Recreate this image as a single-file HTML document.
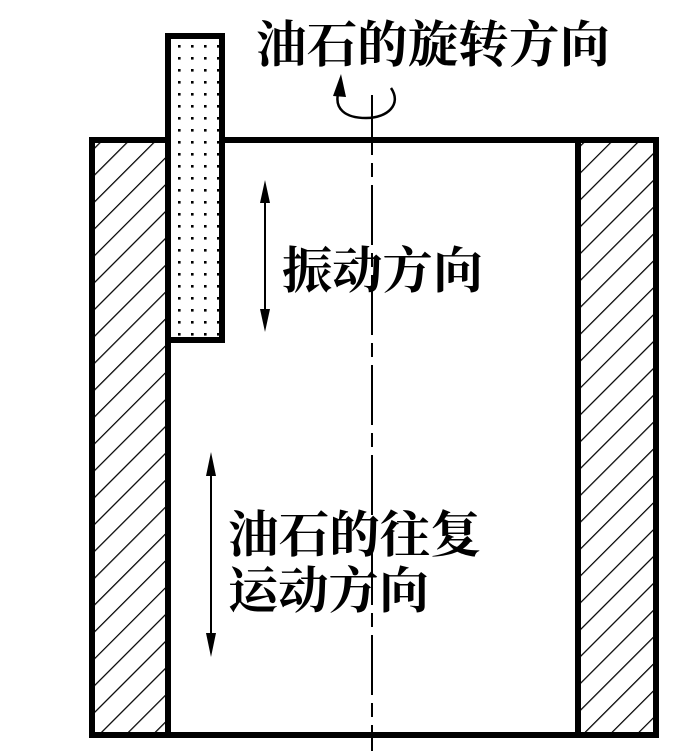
<!DOCTYPE html>
<html><head><meta charset="utf-8"><style>
html,body{margin:0;padding:0;background:#fff;}
svg{display:block;}
text{font-family:"Liberation Serif","Noto Serif CJK SC","Noto Sans CJK SC",serif;fill:#000;font-weight:bold;}
</style></head><body>
<svg width="700" height="751" viewBox="0 0 700 751" xmlns="http://www.w3.org/2000/svg">
<defs>
<pattern id="h" patternUnits="userSpaceOnUse" width="19" height="19" patternTransform="rotate(45)">
<line x1="0" y1="0" x2="0" y2="19" stroke="#000" stroke-width="2.5"/>
</pattern>
<pattern id="d" patternUnits="userSpaceOnUse" width="13" height="12" x="4" y="4">
<rect x="5" y="5" width="2.6" height="2.6" fill="#000"/>
</pattern>
</defs>
<rect x="92" y="140" width="76" height="595" fill="url(#h)"/>
<rect x="578" y="140" width="78" height="595" fill="url(#h)"/>
<line x1="89" y1="140" x2="659" y2="140" stroke="#000" stroke-width="6"/>
<line x1="89" y1="735" x2="659" y2="735" stroke="#000" stroke-width="6"/>
<line x1="92" y1="137" x2="92" y2="738" stroke="#000" stroke-width="6"/>
<line x1="656" y1="137" x2="656" y2="738" stroke="#000" stroke-width="6"/>
<line x1="168" y1="140" x2="168" y2="735" stroke="#000" stroke-width="6"/>
<line x1="578" y1="140" x2="578" y2="735" stroke="#000" stroke-width="6"/>
<rect x="168" y="36" width="54" height="304" fill="#fff"/>
<rect x="168" y="36" width="54" height="304" fill="url(#d)" stroke="#000" stroke-width="6"/>
<line x1="372" y1="95" x2="372" y2="751" stroke="#000" stroke-width="2" stroke-dasharray="60,8,14,8"/>
<path d="M391,88 C402,104 388,118 366,118 C344,118 335,108 338,94" fill="none" stroke="#000" stroke-width="2.5"/>
<polygon points="341,74 333,96 346,97" fill="#000"/>
<line x1="265" y1="190" x2="265" y2="322" stroke="#000" stroke-width="2"/>
<polygon points="265,180 260,203 270,203" fill="#000"/>
<polygon points="265,332 260,309 270,309" fill="#000"/>
<line x1="211" y1="465" x2="211" y2="645" stroke="#000" stroke-width="2"/>
<polygon points="211,452 206,476 216,476" fill="#000"/>
<polygon points="211,657 206,633 216,633" fill="#000"/>
<text x="256" y="62" font-size="50" textLength="354" lengthAdjust="spacingAndGlyphs">油石的旋转方向</text>
<text x="282" y="288" font-size="50" textLength="201" lengthAdjust="spacingAndGlyphs">振动方向</text>
<text x="228" y="552" font-size="50" textLength="253" lengthAdjust="spacingAndGlyphs">油石的往复</text>
<text x="228" y="608" font-size="50" textLength="201" lengthAdjust="spacingAndGlyphs">运动方向</text>
</svg>
</body></html>
